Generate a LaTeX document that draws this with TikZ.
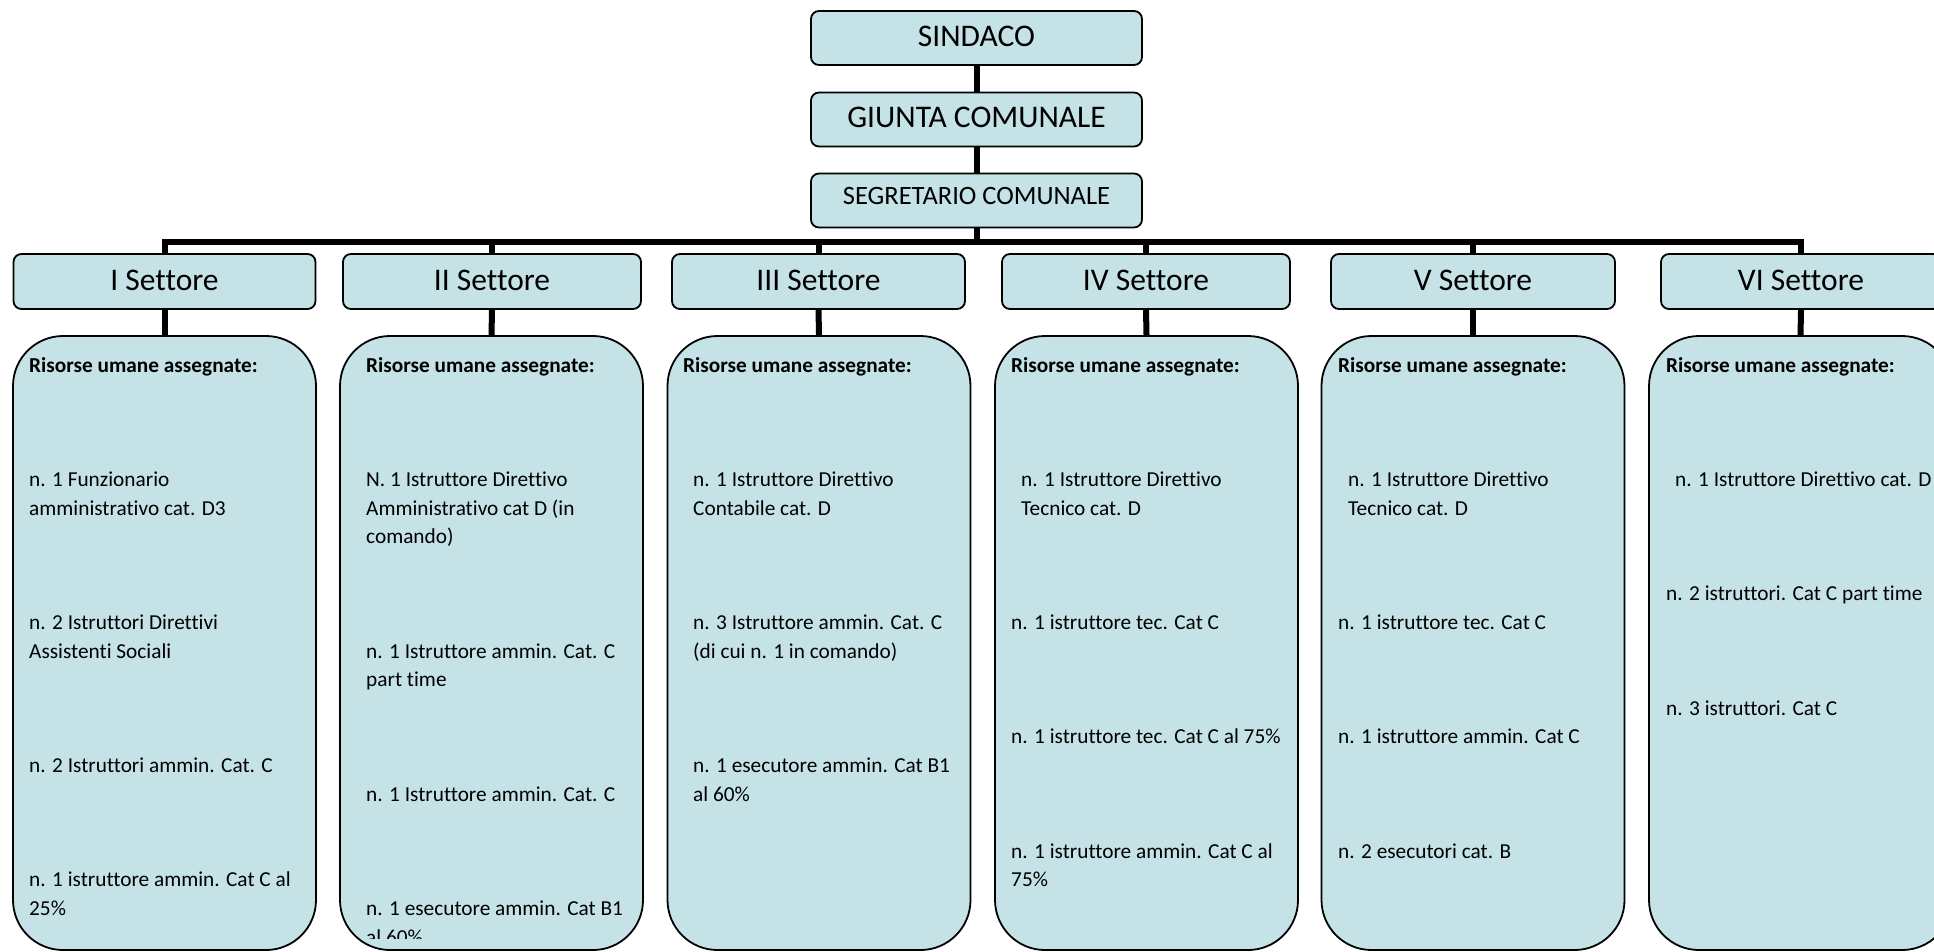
\documentclass[tikz,border=0pt]{standalone}
\usepackage{fontspec}
\setmainfont{Carlito}[Ligatures=CommonOff]
\definecolor{boxfill}{RGB}{197,227,231}
\tikzset{
  topbox/.style={draw=black, line width=1.8pt, fill=boxfill, rounded corners=8pt, inner sep=0pt,
    minimum width=331pt, minimum height=54pt},
  secbox/.style={draw=black, line width=1.8pt, fill=boxfill, rounded corners=8pt, inner sep=0pt,
    minimum height=55pt, font=\fontsize{31.5}{36}\selectfont},
  resbox/.style={draw=black, line width=1.8pt, fill=boxfill, rounded corners=50pt, inner sep=0pt,
    minimum width=303pt, minimum height=614pt},
  conn/.style={draw=black, line width=6pt, line join=miter},
  txt/.style={anchor=base west, inner sep=0pt, font=\fontsize{21.3}{25}\selectfont},
  hdr/.style={txt, font=\fontsize{21.3}{25}\selectfont\bfseries}
}
\newcommand\rl[4]{\node[txt] (#1) at (#2,{372+28.6*#3}) {#4};}
\begin{document}
\begin{tikzpicture}[x=1pt,y=-1pt]
\useasboundingbox (0,0) rectangle (1934,951);
\clip (0,0) rectangle (1934,951);

% top chain
\node[topbox, font=\fontsize{31.5}{36}\selectfont] (sind) at (976.5,38) {\raisebox{4pt}{SINDACO}};
\node[topbox, font=\fontsize{31.5}{36}\selectfont] (giun) at (976.5,119.5) {\raisebox{4pt}{GIUNTA COMUNALE}};
\node[topbox, font=\fontsize{26.5}{30}\selectfont] (segr) at (976.5,200.5) {\raisebox{10pt}{SEGRETARIO COMUNALE}};

% sectors
\node[secbox, minimum width=302pt] (s1) at (164.5,281.5) {\raisebox{3pt}{I Settore}};
\node[secbox, minimum width=298pt] (s2) at (492,281.5) {\raisebox{3pt}{II Settore}};
\node[secbox, minimum width=293pt] (s3) at (818.5,281.5) {\raisebox{3pt}{III Settore}};
\node[secbox, minimum width=288pt] (s4) at (1146,281.5) {\raisebox{3pt}{IV Settore}};
\node[secbox, minimum width=284pt] (s5) at (1473,281.5) {\raisebox{3pt}{V Settore}};
\node[secbox, minimum width=280pt] (s6) at (1801,281.5) {\raisebox{3pt}{VI Settore}};

% resource boxes
\node[resbox] (r1) at (164.5,643) {};
\node[resbox] (r2) at (491.5,643) {};
\node[resbox] (r3) at (819,643) {};
\node[resbox] (r4) at (1146.5,643) {};
\node[resbox] (r5) at (1473,643) {};
\node[resbox] (r6) at (1800.5,643) {};

% connectors
\coordinate (bus) at (0,242);
\draw[conn] (sind.south) -- (giun.north);
\draw[conn] (giun.south) -- (segr.north);
\draw[conn] (segr.south) -- (segr.south |- bus);
\draw[conn] (s1.north) -- (s1.north |- bus) -- (s6.north |- bus) -- (s6.north);
\foreach \i in {2,3,4,5} { \draw[conn] (s\i.north |- bus) -- (s\i.north); }
\foreach \i in {1,...,6} { \draw[conn] (s\i.south) -- (r\i.north); }

% headers
\node[hdr] (h1) at (29,372) {Risorse umane assegnate:};
\node[hdr] (h2) at (366,372) {Risorse umane assegnate:};
\node[hdr] (h3) at (683,372) {Risorse umane assegnate:};
\node[hdr] (h4) at (1011,372) {Risorse umane assegnate:};
\node[hdr] (h5) at (1338,372) {Risorse umane assegnate:};
\node[hdr] (h6) at (1666,372) {Risorse umane assegnate:};

% box I
\rl{a1}{29}{4}{n. 1 Funzionario}
\rl{a2}{29}{5}{amministrativo cat. D3}
\rl{a3}{29}{9}{n. 2 Istruttori Direttivi}
\rl{a4}{29}{10}{Assistenti Sociali}
\rl{a5}{29}{14}{n. 2 Istruttori ammin. Cat. C}
\rl{a6}{29}{18}{n. 1 istruttore ammin. Cat C al}
\rl{a7}{29}{19}{25\%}

% box II
\begin{scope}
\clip (330,336) rectangle (660,938);
\rl{b1}{366}{4}{N. 1 Istruttore Direttivo}
\rl{b2}{366}{5}{Amministrativo cat D (in}
\rl{b3}{366}{6}{comando)}
\rl{b4}{366}{10}{n. 1 Istruttore ammin. Cat. C}
\rl{b5}{366}{11}{part time}
\rl{b6}{366}{15}{n. 1 Istruttore ammin. Cat. C}
\rl{b7}{366}{19}{n. 1 esecutore ammin. Cat B1}
\rl{b8}{366}{20}{al 60\%}
\end{scope}

% box III
\rl{c1}{693}{4}{n. 1 Istruttore Direttivo}
\rl{c2}{693}{5}{Contabile cat. D}
\rl{c3}{693}{9}{n. 3 Istruttore ammin. Cat. C}
\rl{c4}{693}{10}{(di cui n. 1 in comando)}
\rl{c5}{693}{14}{n. 1 esecutore ammin. Cat B1}
\rl{c6}{693}{15}{al 60\%}

% box IV
\rl{d1}{1021}{4}{n. 1 Istruttore Direttivo}
\rl{d2}{1021}{5}{Tecnico cat. D}
\rl{d3}{1011}{9}{n. 1 istruttore tec. Cat C}
\rl{d4}{1011}{13}{n. 1 istruttore tec. Cat C al 75\%}
\rl{d5}{1011}{17}{n. 1 istruttore ammin. Cat C al}
\rl{d6}{1011}{18}{75\%}

% box V
\rl{e1}{1348}{4}{n. 1 Istruttore Direttivo}
\rl{e2}{1348}{5}{Tecnico cat. D}
\rl{e3}{1338}{9}{n. 1 istruttore tec. Cat C}
\rl{e4}{1338}{13}{n. 1 istruttore ammin. Cat C}
\rl{e5}{1338}{17}{n. 2 esecutori cat. B}

% box VI
\rl{f1}{1675}{4}{n. 1 Istruttore Direttivo cat. D}
\rl{f2}{1666}{8}{n. 2 istruttori. Cat C part time}
\rl{f3}{1666}{12}{n. 3 istruttori. Cat C}
\end{tikzpicture}
\end{document}
